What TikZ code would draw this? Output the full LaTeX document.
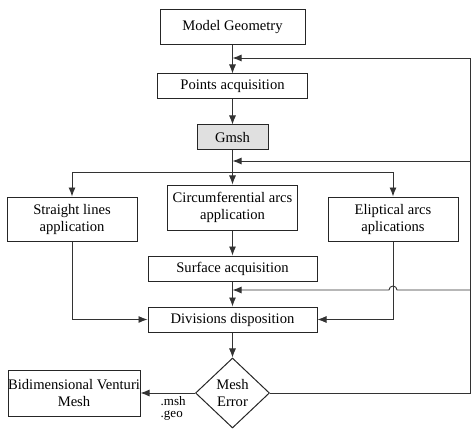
\documentclass[tikz,border=0pt]{standalone}
\usepackage{fontspec}
\setmainfont{Liberation Serif}
\usetikzlibrary{arrows.meta,shapes.geometric}
\tikzset{box/.style={draw=black!85,line width=1pt,align=center,inner sep=0pt,font=\fontsize{14.6}{17}\selectfont},
	link/.style={draw=black!80,line width=0.9pt},
	flow/.style={link,-{Latex[length=9pt,width=7pt]}}}
\begin{document}
\begin{tikzpicture}[x=1pt,y=-1pt]
			\useasboundingbox(0,0)rectangle(474,441);
			\node[box,minimum width=145pt,minimum height=35pt](model)at(232.5,27.5){Model Geometry};
			\node[box,minimum width=150pt,minimum height=25pt](points)at(232.5,86.5){Points acquisition};
			\node[box,fill=black!12,minimum width=71pt,minimum height=25pt](gmsh)at(232.5,137.5){Gmsh};
			\node[box,minimum width=130pt,minimum height=44pt](straight)at(72,219){Straight lines\\application};
			\node[box,minimum width=130pt,minimum height=45pt](circ)at(232.5,207.5){Circumferential arcs\\application};
			\node[box,minimum width=130pt,minimum height=44pt](ellip)at(393,219){Eliptical arcs\\aplications};
			\node[box,minimum width=169pt,minimum height=25pt](surface)at(232.5,268.5){Surface acquisition};
			\node[box,minimum width=169pt,minimum height=25pt](divisions)at(232.5,319.5){Divisions disposition};
			\node[box,diamond,minimum width=74pt,minimum height=70pt](error)at(232.5,393){Mesh\\Error};
			\node[box,minimum width=132pt,minimum height=46pt](venturi)at(74,393){Bidimensional Venturi\\Mesh};
			\coordinate(split)at(232.5,172);
			\coordinate(corner)at(470,58);
			\coordinate(back1)at(470,161);
			\coordinate(back2)at(470,290);
			\draw[flow](model)--(points);
			\draw[flow](points)--(gmsh);
			\draw[flow](gmsh)--(circ);
			\draw[flow](split)-|(straight.north);
			\draw[flow](split)-|(ellip.north);
			\draw[flow](circ)--(surface);
			\draw[flow](surface)--(divisions);
			\draw[flow](straight.south)|-(divisions.west);
			\draw[flow](ellip.south)|-(divisions.east);
			\draw[flow](divisions)--(error);
			\draw[flow](error.west)--(venturi.east)node[pos=0.4,below=3pt,align=left,inner sep=0pt,font=\fontsize{13}{12}\selectfont]{.msh\\.geo};
			\draw[link](error.east)-|(corner);
			\draw[flow](corner)--(model.south|-corner);
			\draw[flow](back1)--(gmsh.south|-back1);
			\draw[flow](back2)--(397,290)arc(0:180:4pt)--(surface.south|-back2);
		\end{tikzpicture}
\end{document}
